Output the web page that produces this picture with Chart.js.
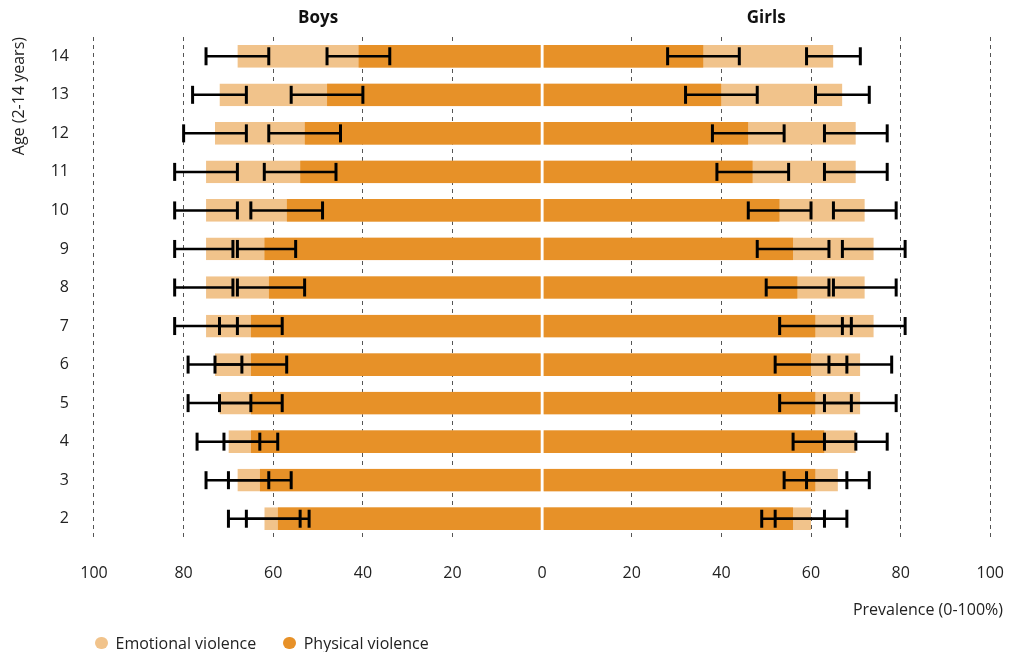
<!DOCTYPE html>
<html>
<head>
<meta charset="utf-8">
<script src="https://cdn.jsdelivr.net/npm/chart.js@4.4.1/dist/chart.umd.min.js"></script>
<style>
  html, body { margin: 0; padding: 0; background: #fff; }
  #wrap { position: relative; width: 1013px; height: 652px; }
  #legend {
    position: absolute; left: 95px; top: 632px;
    display: flex; align-items: center;
    font: 16px "Open Sans", "Noto Sans", sans-serif; color: #222;
  }
  #legend span.item { display: flex; align-items: center; margin-right: 27px; }
  #legend span.dot { width: 12.5px; height: 12.5px; border-radius: 50%; margin-right: 8px; }
</style>
</head>
<body>
<div id="wrap">
  <canvas id="chart" width="1013" height="652"></canvas>
  <div id="legend"></div>
</div>
<script>
// ages, bottom to top in the picture
const ages = ['2', '3', '4', '5', '6', '7', '8', '9', '10', '11', '12', '13', '14'];

// prevalence in %, per age
const boysEmotional = [62, 68, 70, 72, 73, 75, 75, 75, 75, 75, 73, 72, 68];
const boysPhysical = [59, 63, 65, 65, 65, 65, 61, 62, 57, 54, 53, 48, 41];
const girlsEmotional = [60, 66, 70, 71, 71, 74, 72, 74, 72, 70, 70, 67, 65];
const girlsPhysical = [56, 61, 63, 61, 60, 61, 57, 56, 53, 47, 46, 40, 36];

// confidence intervals [low, high]
const boysEmotionalCI = [[54, 70], [61, 75], [63, 77], [65, 79], [67, 79], [68, 82], [69, 82], [69, 82], [68, 82], [68, 82], [66, 80], [66, 78], [61, 75]];
const boysPhysicalCI = [[52, 66], [56, 70], [59, 71], [58, 72], [57, 73], [58, 72], [53, 68], [55, 68], [49, 65], [46, 62], [45, 61], [40, 56], [34, 48]];
const girlsEmotionalCI = [[52, 68], [59, 73], [63, 77], [63, 79], [64, 78], [67, 81], [65, 79], [67, 81], [65, 79], [63, 77], [63, 77], [61, 73], [59, 71]];
const girlsPhysicalCI = [[49, 63], [54, 68], [56, 70], [53, 69], [52, 68], [53, 69], [50, 64], [48, 64], [46, 60], [39, 55], [38, 54], [32, 48], [28, 44]];

const xTicks = [-100, -80, -60, -40, -20, 0, 20, 40, 60, 80, 100];

const emotionalColor = '#f1c38b';
const physicalColor = '#e79128';
const textColor = '#222';
const fontFamily = '"Open Sans", "Noto Sans", sans-serif';

// chart draws the first category at the top, so flip the rows
const topDown = arr => arr.slice().reverse();

// boys go to the left of zero, girls to the right
const errorSets = [
    { ci: topDown(boysEmotionalCI), sign: -1 },
    { ci: topDown(boysPhysicalCI), sign: -1 },
    { ci: topDown(girlsEmotionalCI), sign: 1 },
    { ci: topDown(girlsPhysicalCI), sign: 1 }
];

const errorBars = {
    id: 'errorBars',
    afterDatasetsDraw(chart) {
        const { ctx, scales: { x, y } } = chart;
        ctx.save();
        ctx.strokeStyle = '#000';
        errorSets.forEach(({ ci, sign }) => {
            ci.forEach(([lo, hi], i) => {
                const yc = y.getPixelForValue(i);
                const x1 = x.getPixelForValue(sign * lo);
                const x2 = x.getPixelForValue(sign * hi);
                ctx.lineWidth = 2.5;
                ctx.beginPath();
                ctx.moveTo(x1, yc);
                ctx.lineTo(x2, yc);
                ctx.stroke();
                ctx.lineWidth = 3;
                [x1, x2].forEach(px => {
                    ctx.beginPath();
                    ctx.moveTo(px, yc - 9);
                    ctx.lineTo(px, yc + 9);
                    ctx.stroke();
                });
            });
        });
        ctx.restore();
    }
};

function barSet(label, values, sign, color, order) {
    return {
        label,
        data: topDown(values).map(v => sign * v),
        backgroundColor: color,
        borderColor: '#fff',
        // thin white edge at zero splits the two halves
        borderWidth: sign < 0 ? { right: 1, left: 0, top: 0, bottom: 0 } : { left: 1, right: 0, top: 0, bottom: 0 },
        borderSkipped: false,
        grouped: false,
        order,
        categoryPercentage: 1,
        barPercentage: 0.59
    };
}

const legendItems = [
    { label: 'Emotional violence', color: emotionalColor },
    { label: 'Physical violence', color: physicalColor }
];

const legend = document.getElementById('legend');
legendItems.forEach(item => {
    const el = document.createElement('span');
    el.className = 'item';
    el.innerHTML = `<span class="dot" style="background:${item.color}"></span><span>${item.label}</span>`;
    legend.appendChild(el);
});

new Chart(document.getElementById('chart'), {
    type: 'bar',
    data: {
        labels: topDown(ages),
        datasets: [
            barSet('Emotional violence', boysEmotional, -1, emotionalColor, 1),
            barSet('Physical violence', boysPhysical, -1, physicalColor, 0),
            barSet('Emotional violence', girlsEmotional, 1, emotionalColor, 1),
            barSet('Physical violence', girlsPhysical, 1, physicalColor, 0)
        ]
    },
    options: {
        indexAxis: 'y',
        responsive: false,
        animation: false,
        layout: { padding: { top: 0, right: 10, left: 0, bottom: 32 } },
        scales: {
            x: {
                min: -100,
                max: 100,
                afterBuildTicks: s => { s.ticks = xTicks.map(value => ({ value })); },
                ticks: {
                    callback: v => Math.abs(v),
                    font: { family: fontFamily, size: 16 },
                    color: textColor,
                    padding: 9,
                    maxRotation: 0
                },
                grid: {
                    color: c => (c.tick && c.tick.value === 0 ? 'rgba(0,0,0,0)' : '#555'),
                    tickColor: 'rgba(0,0,0,0)',
                    tickLength: 17
                },
                border: { display: false, dash: [4, 4] }
            },
            xt: {
                type: 'linear',
                position: 'top',
                min: -100,
                max: 100,
                afterBuildTicks: s => { s.ticks = [{ value: -50 }, { value: 50 }]; },
                ticks: {
                    callback: v => (v < 0 ? 'Boys' : 'Girls'),
                    font: { family: fontFamily, size: 17, weight: 'bold' },
                    color: '#111',
                    padding: 8.3,
                    autoSkip: false,
                    maxRotation: 0
                },
                grid: { display: false, drawTicks: false },
                border: { display: false }
            },
            y: {
                ticks: {
                    font: { family: fontFamily, size: 16 },
                    color: textColor,
                    padding: 25
                },
                grid: { display: false, drawTicks: false },
                border: { display: false },
                title: {
                    display: true,
                    text: 'Age (2-14 years)',
                    align: 'end',
                    font: { family: fontFamily, size: 16 },
                    color: textColor,
                    padding: { top: 10, bottom: -3.5 }
                }
            }
        },
        plugins: {
            title: {
                display: true,
                text: 'Prevalence (0-100%)',
                position: 'bottom',
                align: 'end',
                font: { family: fontFamily, size: 16, weight: 'normal' },
                color: textColor,
                padding: { top: 8.6, bottom: 0 }
            },
            legend: { display: false },
            tooltip: { enabled: false }
        }
    },
    plugins: [errorBars]
});
</script>
</body>
</html>
